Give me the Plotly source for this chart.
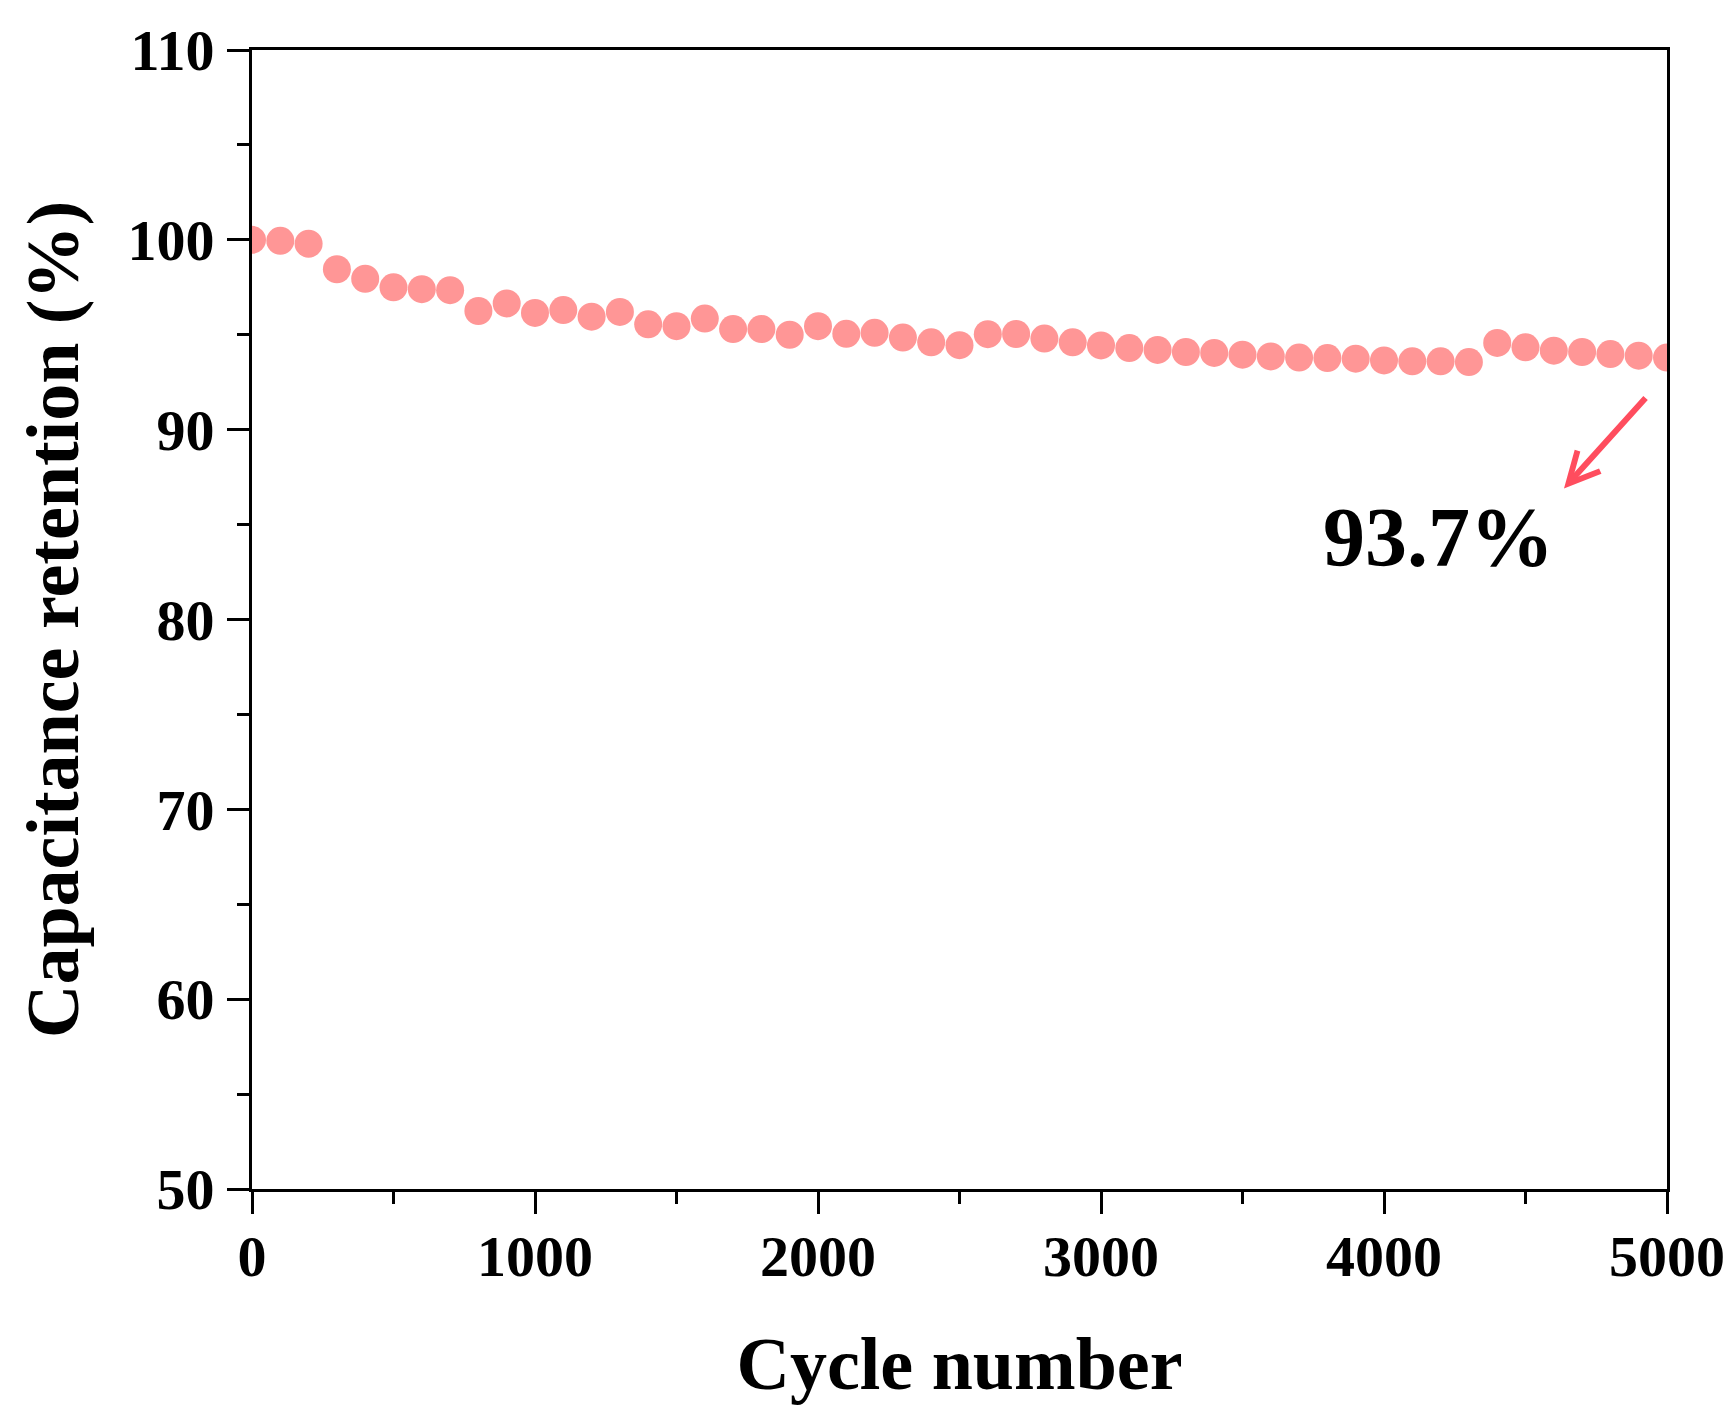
import plotly.graph_objects as go

cycles = list(range(0, 5001, 100))
retention = [
    100.0, 99.95, 99.8, 98.45, 97.95, 97.5, 97.4, 97.35, 96.25, 96.65,
    96.15, 96.3, 95.95, 96.2, 95.55, 95.45, 95.85, 95.3, 95.3, 95.0,
    95.45, 95.05, 95.1, 94.85, 94.6, 94.45, 95.03, 95.04, 94.8, 94.6,
    94.44, 94.3, 94.2, 94.09, 94.04, 93.95, 93.86, 93.8, 93.77, 93.74,
    93.65, 93.6, 93.6, 93.56, 94.57, 94.34, 94.16, 94.09, 93.98, 93.9,
    93.8,
]
final_label = "93.7%"

FONT = "Liberation Serif"

fig = go.Figure()
fig.add_trace(go.Scatter(
    x=cycles, y=retention, mode="markers",
    marker=dict(size=28, color="#FF9696", line=dict(width=0)),
    cliponaxis=True, showlegend=False,
))

axis_common = dict(
    showgrid=False, zeroline=False,
    showline=True, linecolor="black", linewidth=3, mirror=True,
    ticks="outside", ticklen=22, tickwidth=3, tickcolor="black",
    tickfont=dict(family=FONT, size=58, color="black", weight="bold"),
)

fig.update_xaxes(
    range=[0, 5000], tick0=0, dtick=1000,
    minor=dict(ticks="outside", ticklen=12, tickwidth=3, tickcolor="black", dtick=500),
    title=dict(text="Cycle number", font=dict(family=FONT, size=74, color="black", weight="bold"), standoff=50),
    ticklabelstandoff=-8,
    **axis_common,
)
fig.update_yaxes(
    range=[50, 110], tick0=50, dtick=10,
    minor=dict(ticks="outside", ticklen=12, tickwidth=3, tickcolor="black", dtick=5),
    title=dict(text="Capacitance retention (%)", font=dict(family=FONT, size=74, color="black", weight="bold"), standoff=25),
    ticklabelstandoff=1,
    **axis_common,
)

# arrow pointing at the last point
fig.add_annotation(
    x=4636, y=86.9, ax=4929, ay=91.75, xref="x", yref="y", axref="x", ayref="y",
    text="", showarrow=True, arrowhead=5, arrowsize=1.0, arrowwidth=6, arrowcolor="#FF4D5E",
)
fig.add_annotation(
    x=4194, y=84.3, xref="x", yref="y", text=final_label, showarrow=False,
    font=dict(family=FONT, size=84, color="black", weight="bold"),
    xanchor="center", yanchor="middle",
)

# the page body adds 8px, so the figure is 16px smaller than the window
fig.update_layout(
    width=1719, height=1410,
    margin=dict(l=244, r=60, t=42, b=229, autoexpand=False),
    paper_bgcolor="white", plot_bgcolor="white",
)

fig.write_html("out.html")
